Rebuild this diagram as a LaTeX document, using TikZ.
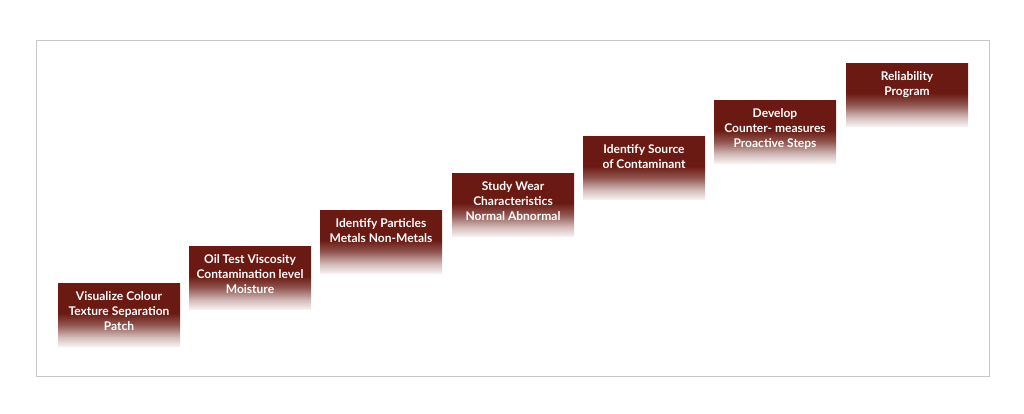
\documentclass[tikz,border=0pt]{standalone}
\usepackage{fontspec}
\setmainfont{Lato}
\definecolor{dred}{HTML}{6A1A12}
\definecolor{framegray}{HTML}{C8C8C8}
\pgfdeclareverticalshading{boxfade}{100bp}{color(0bp)=(white); color(25bp)=(dred!4!white); color(33bp)=(dred!30!white); color(43bp)=(dred!75!white); color(52bp)=(dred); color(100bp)=(dred)}
\tikzset{
  stepbox/.style={shading=boxfade, draw=none},
  steptext/.style={anchor=north, align=center, text=white, inner sep=0pt,
    font=\fontsize{12}{15}\selectfont\bfseries},
}
\begin{document}
\begin{tikzpicture}[x=1pt,y=1pt]
\useasboundingbox (0,0) rectangle (1024,414);
\fill[white] (0,0) rectangle (1024,414);
\draw[framegray, line width=0.9pt] (36,38) rectangle (989,374);
% boxes: left x, top y (px)
\foreach \n/\lx/\ty/\txt in {
  a/58/284/{Visualize Colour\\Texture Separation\\Patch},
  b/189/247/{Oil Test Viscosity\\Contamination level\\Moisture},
  c/320/211/{Identify Particles\\Metals Non-Metals},
  d/452/174/{Study Wear\\Characteristics\\Normal Abnormal},
  e/583/137/{Identify Source\\of Contaminant},
  f/714/101/{Develop\\Counter- measures\\Proactive Steps},
  g/846/64/{Reliability\\Program}}{
  \path[stepbox] (\lx,414-\ty) rectangle ++(122,-63);
  \coordinate (\n top) at (\lx+61,414-\ty);
  \node[steptext] (\n) at ([yshift=-7pt]\n top) {\txt};
}
\end{tikzpicture}
\end{document}
